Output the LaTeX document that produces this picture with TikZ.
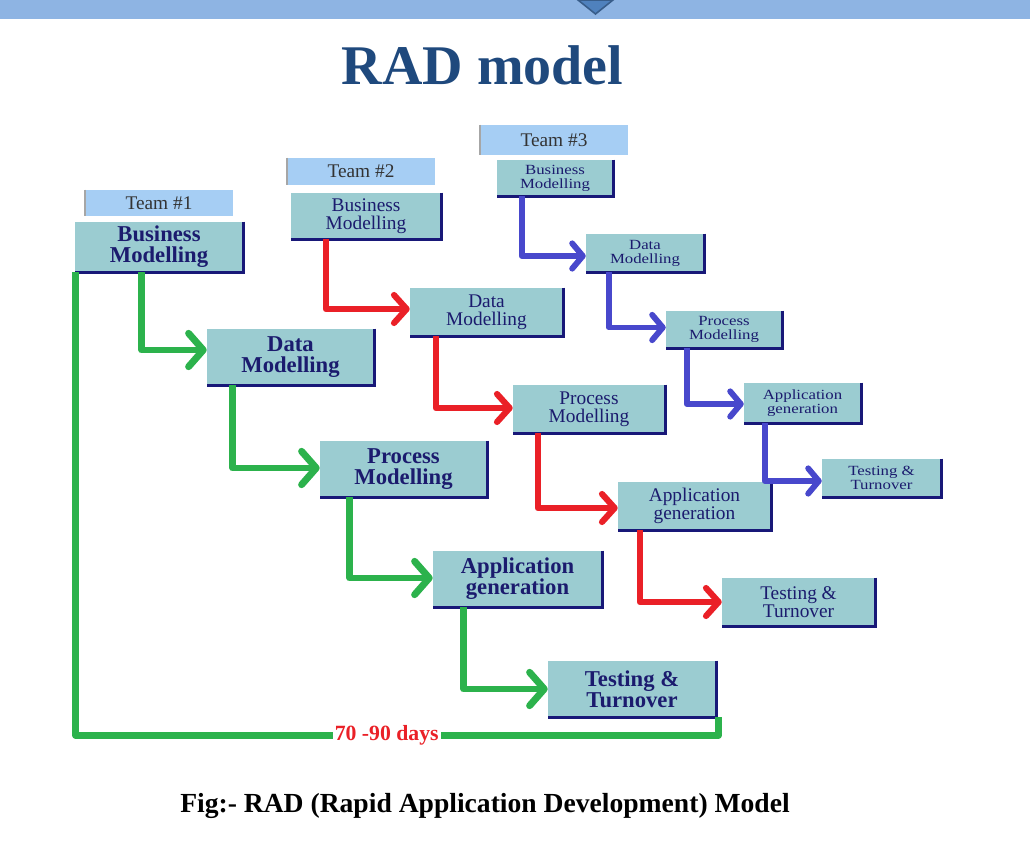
\documentclass[tikz,border=0pt]{standalone}
\usepackage{fontspec}
\setmainfont{Liberation Serif}
\usetikzlibrary{arrows.meta,calc}
\definecolor{band}{RGB}{142,180,227}
\definecolor{tri}{RGB}{79,129,189}
\definecolor{triedge}{RGB}{56,93,138}
\definecolor{titleblue}{RGB}{31,73,125}
\definecolor{boxfill}{RGB}{155,204,209}
\definecolor{teamfill}{RGB}{166,206,244}
\definecolor{navy}{RGB}{27,27,110}
\definecolor{shadowblue}{RGB}{24,24,120}
\definecolor{grn}{RGB}{44,178,76}
\definecolor{rd}{RGB}{234,32,39}
\definecolor{bl}{RGB}{72,72,204}
\tikzset{
  bw/.style={minimum width=#1*0.75pt},
  bh/.style={minimum height=#1*0.75pt},
  box/.style={fill=boxfill, inner sep=0pt, align=center, text=navy},
  tone/.style={box, font=\fontsize{17}{15.75}\selectfont\bfseries},
  ttwo/.style={box, font=\fontsize{14.5}{13.5}\selectfont},
  tthree/.style={box, font=\fontsize{10.5}{10.5}\selectfont\addfontfeature{FakeStretch=1.2}},
  team/.style={fill=teamfill, inner sep=0pt, text=black!80, font=\fontsize{14.5}{15}\selectfont},
  edge/.style={draw=shadowblue, line width=2.2pt},
  gconn/.style={draw=grn, line width=5.2pt, line join=round,
     -{Straight Barb[length=11pt,width=25pt,round]}},
  rconn/.style={draw=rd, line width=4.6pt, line join=round,
     -{Straight Barb[length=9.5pt,width=21pt,round]}},
  bconn/.style={draw=bl, line width=4.4pt, line join=round,
     -{Straight Barb[length=8pt,width=19pt,round]}}
}
\begin{document}
\begin{tikzpicture}[x=0.75pt,y=-0.75pt]
\useasboundingbox (0,0) rectangle (1030,841);
% top band
\fill[band] (0,0) rectangle (1030,19);
\filldraw[fill=tri, draw=triedge, line width=1.2pt] (578,0) -- (613,0) -- (595.5,14) -- cycle;
% title
\node[anchor=base, text=titleblue, font=\fontsize{42}{44}\selectfont\bfseries] (title) at (482.5,85) {RAD model};

% team labels
\node[team, bw=148, bh=26] (T1) at (159,203) {Team \#1};
\node[team, bw=148, bh=27] (T2) at (361,171.5) {Team \#2};
\node[team, bw=148, bh=30] (T3) at (554,140) {Team \#3};
\foreach \n in {T1,T2,T3} \draw[black!35, line width=1.5pt] (\n.north west) -- (\n.south west);

% team 1
\node[tone, bw=168, bh=50] (BM1) at (159,247) {Business\\Modelling};
\node[tone, bw=167, bh=56] (DM1) at (290.5,357) {Data\\Modelling};
\node[tone, bw=167, bh=56] (PM1) at (403.5,469) {Process\\Modelling};
\node[tone, bw=169, bh=56] (AG1) at (517.5,579) {Application\\generation};
\node[tone, bw=168, bh=56] (TT1) at (632,689) {Testing \&\\Turnover};
% team 2
\node[ttwo, bw=150, bh=46] (BM2) at (366,216) {Business\\Modelling};
\node[ttwo, bw=153, bh=48] (DM2) at (486.5,312) {Data\\Modelling};
\node[ttwo, bw=152, bh=48] (PM2) at (589,409) {Process\\Modelling};
\node[ttwo, bw=153, bh=48] (AG2) at (694.5,506) {Application\\generation};
\node[ttwo, bw=153, bh=48] (TT2) at (798.5,602) {Testing \&\\Turnover};
% team 3
\node[tthree, bw=116, bh=36] (BM3) at (555,178) {Business\\Modelling};
\node[tthree, bw=118, bh=38] (DM3) at (645,253) {Data\\Modelling};
\node[tthree, bw=116, bh=37] (PM3) at (724,329.5) {Process\\Modelling};
\node[tthree, bw=117, bh=40] (AG3) at (802.5,403) {Application\\generation};
\node[tthree, bw=119, bh=38] (TT3) at (881.5,478) {Testing \&\\Turnover};

\foreach \n in {BM1,DM1,PM1,AG1,TT1,BM2,DM2,PM2,AG2,TT2,BM3,DM3,PM3,AG3,TT3}
  \draw[edge] (\n.north east) -- (\n.south east) -- (\n.south west);

% green connectors
\draw[gconn] ($(BM1.south west)+(67,0)$) |- ($(DM1.west)+(0,-7)$);
\draw[gconn] ($(DM1.south west)+(26,0)$) |- ($(PM1.west)+(0,-1)$);
\draw[gconn] ($(PM1.south west)+(30,0)$) |- ($(AG1.west)+(0,-1)$);
\draw[gconn] ($(AG1.south west)+(31,0)$) |- (TT1.west);
% red connectors
\draw[rconn] ($(BM2.south west)+(35,0)$) |- ($(DM2.west)+(0,-3)$);
\draw[rconn] ($(DM2.south west)+(26,0)$) |- ($(PM2.west)+(0,-1)$);
\draw[rconn] ($(PM2.south west)+(25,0)$) |- ($(AG2.west)+(0,2)$);
\draw[rconn] ($(AG2.south west)+(22,0)$) |- (TT2.west);
% blue connectors
\draw[bconn] ($(BM3.south west)+(25,0)$) |- ($(DM3.west)+(0,3)$);
\draw[bconn] ($(DM3.south west)+(23,0)$) |- ($(PM3.west)+(0,-2)$);
\draw[bconn] ($(PM3.south west)+(21,0)$) |- ($(AG3.west)+(0,1)$);
\draw[bconn] ($(AG3.south west)+(21,0)$) |- ($(TT3.west)+(0,3)$);

% duration loop
\coordinate (loopstart) at ($(BM1.south west)+(1,0)$);
\coordinate (loopend) at ($(TT1.south east)+(2,0)$);
\draw[draw=grn, line width=5.2pt, line join=round]
  (loopstart) -- ($(loopstart)+(0,463)$) -| (loopend)
  node[pos=0.242, fill=white, inner sep=1.5pt, text=rd, font=\fontsize{16.3}{16}\selectfont\bfseries] (days) {70 -90 days};

% caption
\node[font=\fontsize{20.7}{22}\selectfont\bfseries, text=black] (caption) at (485,806) {Fig:- RAD (Rapid Application Development) Model};
\end{tikzpicture}
\end{document}
